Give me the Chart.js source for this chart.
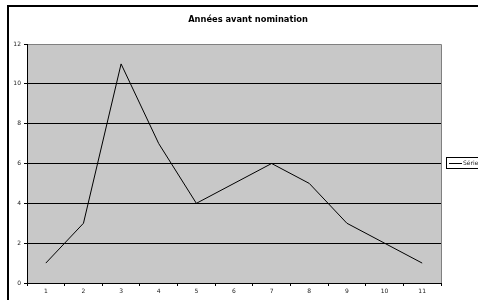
<!DOCTYPE html>
<html lang="fr">
<head>
    <meta charset="UTF-8">
    <title>Années avant nomination</title>
    <script src="https://cdn.jsdelivr.net/npm/chart.js"></script>
    <style>
        html, body {
            margin: 0;
            padding: 0;
            background-color: #ffffff;
            overflow: hidden;
        }

        .chart-container {
            position: relative;
            width: 478px;
            height: 300px;
        }
    </style>
</head>
<body>
    <div class="chart-container">
        <canvas id="yearsChart"></canvas>
    </div>

    <script>
        const categories = ['1', '2', '3', '4', '5', '6', '7', '8', '9', '10', '11'];
        const serie1 = [1, 3, 11, 7, 4, 5, 6, 5, 3, 2, 1];
        const seriesName = 'Série1';
        const chartTitle = 'Années avant nomination';

        const tickFont = { family: 'DejaVu Sans', size: 6 };

        // gray plot area, outer frame, title and the legend box (Excel look)
        const excelLook = {
            id: 'excelLook',
            beforeDraw(chart) {
                const { ctx, chartArea } = chart;
                ctx.save();
                ctx.strokeStyle = '#000000';
                ctx.lineWidth = 2;
                ctx.strokeRect(8, 6, 520, 320);
                ctx.fillStyle = '#c8c8c8';
                ctx.fillRect(chartArea.left, chartArea.top, chartArea.right - chartArea.left, chartArea.bottom - chartArea.top);
                ctx.strokeStyle = '#808080';
                ctx.lineWidth = 1;
                ctx.beginPath();
                ctx.moveTo(chartArea.left, chartArea.top + 0.5);
                ctx.lineTo(chartArea.right + 0.5, chartArea.top + 0.5);
                ctx.lineTo(chartArea.right + 0.5, chartArea.bottom);
                ctx.stroke();

                ctx.fillStyle = '#000000';
                ctx.font = 'bold 8.3px "DejaVu Sans"';
                ctx.textAlign = 'center';
                ctx.textBaseline = 'middle';
                ctx.fillText(chartTitle, 248, 19.5);
                ctx.restore();
            },
            afterDraw(chart) {
                const { ctx } = chart;
                ctx.save();
                ctx.strokeStyle = '#000000';
                ctx.lineWidth = 1;
                ctx.strokeRect(446.5, 157.5, 60, 11);
                ctx.beginPath();
                ctx.moveTo(449, 163.5);
                ctx.lineTo(462, 163.5);
                ctx.stroke();
                ctx.fillStyle = '#222222';
                ctx.font = '6px "DejaVu Sans"';
                ctx.textBaseline = 'middle';
                ctx.fillText(chart.data.datasets[0].label, 463, 163.5);
                ctx.restore();
            }
        };

        const ctx = document.getElementById('yearsChart').getContext('2d');
        const yearsChart = new Chart(ctx, {
            type: 'line',
            data: {
                labels: categories,
                datasets: [
                    { label: seriesName, data: serie1, borderColor: '#000000', borderWidth: 1, pointRadius: 0, fill: false, tension: 0 },
                ],
            },
            options: {
                responsive: true,
                maintainAspectRatio: false,
                animation: false,
                layout: { padding: { top: 44, left: 8, right: 37, bottom: 0 } },
                scales: {
                    x: {
                        offset: true,
                        afterFit: (scale) => { scale.height = 17; },
                        grid: {
                            offset: true,
                            drawOnChartArea: false,
                            drawTicks: true,
                            tickLength: 3,
                            color: '#000000',
                        },
                        border: { color: '#000000', width: 1 },
                        ticks: { font: tickFont, color: '#222222', padding: 2, maxRotation: 0, autoSkip: false },
                    },
                    y: {
                        min: 0,
                        max: 12,
                        afterFit: (scale) => { scale.width = 19; },
                        grid: {
                            color: (c) => (c.tick && c.tick.value === 12 ? 'rgba(0,0,0,0)' : '#000000'),
                            tickColor: '#000000',
                            tickLength: 3,
                            lineWidth: 1,
                        },
                        border: { color: '#000000', width: 1 },
                        ticks: { stepSize: 2, font: tickFont, color: '#222222', padding: 3 },
                    },
                },
                plugins: {
                    legend: { display: false },
                    tooltip: { enabled: false },
                    title: { display: false },
                },
            },
            plugins: [excelLook],
        });
    </script>
</body>
</html>
